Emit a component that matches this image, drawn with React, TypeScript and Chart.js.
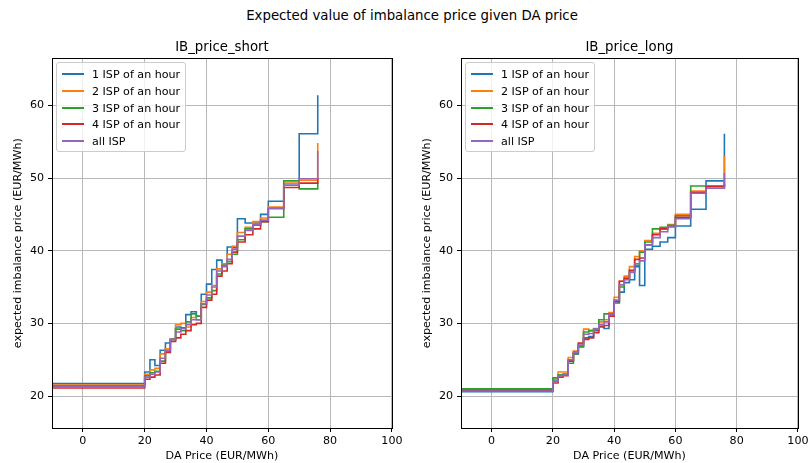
import React, { useEffect, useRef } from "react";
import { Chart, registerables } from "chart.js";
Chart.register(...registerables);

const SUPTITLE = "Expected value of imbalance price given DA price";
const SERIES_LABELS = ["1 ISP of an hour", "2 ISP of an hour", "3 ISP of an hour", "4 ISP of an hour", "all ISP"];
const COLORS = ["#1f77b4", "#ff7f0e", "#2ca02c", "#d62728", "#9467bd"];
const X_TICKS = [0, 20, 40, 60, 80, 100];
const Y_TICKS = [20, 30, 40, 50, 60];

const DA_PRICE = [-10, 20, 21.7, 23.3, 25, 26.7, 28.3, 30, 31.7, 33.3, 35, 36.7, 38.3, 40, 41.7, 43.3, 45, 46.7, 48.3, 50, 52.5, 55, 57.5, 60, 65, 70, 76];

const SHORT_1 = [21.7, 23.3, 25.0, 24.2, 26.3, 27.3, 27.8, 29.5, 29.4, 31.2, 31.6, 30.5, 34.0, 35.4, 37.4, 38.7, 38.0, 40.5, 40.4, 44.4, 43.8, 43.8, 45.0, 46.8, 49.0, 56.1, 61.4];
const SHORT_2 = [21.5, 23.0, 23.6, 23.8, 25.8, 26.5, 27.8, 29.8, 30.0, 29.5, 30.8, 31.0, 33.0, 34.3, 35.2, 37.5, 38.2, 39.5, 40.6, 42.5, 43.2, 44.0, 44.5, 46.0, 49.3, 49.7, 54.8];
const SHORT_3 = [21.4, 22.8, 23.2, 23.4, 24.8, 26.2, 27.8, 29.2, 29.0, 30.2, 31.3, 31.0, 32.6, 33.5, 34.5, 36.8, 38.0, 38.5, 39.5, 41.5, 43.0, 43.5, 44.0, 44.6, 49.6, 48.5, 49.5];
const SHORT_4 = [21.1, 22.3, 22.6, 22.9, 24.5, 26.0, 27.5, 28.0, 28.5, 29.0, 29.8, 30.0, 32.2, 33.2, 34.0, 36.5, 37.2, 38.2, 39.8, 41.2, 42.2, 43.0, 44.0, 45.8, 48.7, 49.3, 50.0];
const SHORT_ALL = [21.3, 22.6, 23.0, 23.3, 25.2, 26.3, 27.8, 28.8, 29.3, 29.8, 30.5, 30.5, 32.7, 33.9, 35.0, 37.2, 37.8, 38.8, 40.2, 42.0, 42.8, 43.6, 44.2, 45.8, 49.0, 49.9, 53.7];

const LONG_1 = [20.6, 22.2, 22.9, 23.0, 24.9, 25.8, 26.8, 28.0, 28.2, 29.0, 29.6, 29.3, 31.0, 32.8, 34.3, 35.6, 36.0, 37.8, 35.2, 40.2, 40.6, 41.2, 41.8, 43.4, 45.7, 49.6, 56.1];
const LONG_2 = [20.9, 22.3, 23.3, 23.3, 25.3, 26.2, 27.2, 29.2, 29.0, 29.3, 30.2, 30.5, 31.5, 33.6, 35.8, 36.5, 37.8, 39.2, 40.0, 41.4, 42.4, 43.0, 43.6, 45.0, 48.2, 48.9, 53.0];
const LONG_3 = [21.0, 22.5, 22.9, 23.0, 24.5, 25.8, 26.8, 28.8, 29.0, 29.2, 30.5, 31.3, 31.3, 33.0, 35.0, 36.2, 37.2, 38.0, 39.8, 41.2, 43.0, 43.2, 43.5, 44.8, 48.9, 48.9, 49.2];
const LONG_4 = [20.8, 21.8, 22.6, 22.8, 24.8, 26.0, 27.3, 27.8, 28.0, 28.7, 29.5, 29.7, 31.0, 33.0, 35.8, 36.2, 37.3, 38.8, 39.0, 40.8, 42.2, 43.0, 43.3, 44.6, 48.0, 48.8, 49.5];
const LONG_ALL = [20.7, 22.0, 22.8, 22.9, 25.0, 26.0, 27.0, 28.5, 28.6, 29.2, 29.8, 30.2, 31.2, 33.2, 35.3, 36.0, 37.0, 38.2, 38.6, 40.8, 41.8, 42.6, 43.3, 44.4, 47.9, 48.6, 50.7];

const FONT = "'DejaVu Sans', sans-serif";

const framePlugin = {
  id: "frame",
  afterDraw(chart: any) {
    const { ctx, chartArea: a } = chart;
    ctx.save();
    ctx.strokeStyle = "#000";
    ctx.lineWidth = 1;
    ctx.strokeRect(Math.round(a.left) + 0.5, Math.round(a.top) + 0.5, Math.round(a.right - a.left), Math.round(a.bottom - a.top));
    ctx.restore();
  },
};

function SubPlot(props: { title: string; series: number[][]; left: number; width: number; padRight: number }) {
  const ref = useRef<HTMLCanvasElement>(null);
  useEffect(() => {
    const datasets = props.series.map((vals, i) => ({
      label: SERIES_LABELS[i],
      data: DA_PRICE.map((x, j) => ({ x, y: vals[j] })),
      borderColor: COLORS[i],
      backgroundColor: COLORS[i],
      borderWidth: 1.6,
      pointRadius: 0,
      stepped: "before" as const,
      fill: false,
      order: 4 - i,
    }));
    const chart = new Chart(ref.current!, {
      type: "line",
      data: { datasets },
      plugins: [framePlugin],
      options: {
        animation: false,
        responsive: false,
        devicePixelRatio: 1,
        layout: { padding: { top: 0, right: props.padRight, bottom: 0, left: 0 } },
        plugins: {
          legend: { display: false },
          tooltip: { enabled: false },
          title: {
            display: true,
            text: props.title,
            fullSize: false,
            color: "#000",
            font: { family: FONT, size: 13.3, weight: "normal" },
            padding: { top: 40, bottom: 2.5 },
          },
        },
        scales: {
          x: {
            type: "linear",
            min: -10,
            max: 100,
            afterBuildTicks: (s: any) => { s.ticks = X_TICKS.map((v) => ({ value: v })); },
            afterFit: (s: any) => { s.height = 35; },
            border: { display: false },
            grid: { color: "#b8b8b8", lineWidth: 1, tickColor: "#000", tickLength: 4, drawTicks: true },
            ticks: { color: "#000", font: { family: FONT, size: 11.1 }, padding: 2.5, maxRotation: 0 },
            title: { display: true, text: "DA Price (EUR/MWh)", color: "#000", font: { family: FONT, size: 11.1 }, padding: { top: 0, bottom: 0 } },
          },
          y: {
            type: "linear",
            min: 15.6,
            max: 66.45,
            afterBuildTicks: (s: any) => { s.ticks = Y_TICKS.map((v) => ({ value: v })); },
            afterFit: (s: any) => { s.width = 52; },
            border: { display: false },
            grid: { color: "#b8b8b8", lineWidth: 1, tickColor: "#000", tickLength: 4, drawTicks: true },
            ticks: { color: "#000", font: { family: FONT, size: 11.1 }, padding: 4 },
            title: { display: true, text: "expected imbalance price (EUR/MWh)", color: "#000", font: { family: FONT, size: 11.1 }, padding: { top: 11.5, bottom: 0 } },
          },
        },
      },
    } as any);
    return () => chart.destroy();
  }, []);
  return (
    <canvas
      ref={ref}
      width={props.width}
      height={463}
      style={{ position: "absolute", left: props.left, top: 0, width: props.width, height: 463 }}
    />
  );
}

function Legend(props: { left: number }) {
  return (
    <div
      style={{
        position: "absolute",
        left: props.left,
        top: 62,
        width: 130,
        height: 90,
        background: "rgba(255,255,255,0.8)",
        border: "1px solid #cccccc",
        borderRadius: 3,
        boxSizing: "border-box",
        fontFamily: FONT,
        fontSize: 11.1,
        color: "#000",
      }}
    >
      {SERIES_LABELS.map((lab, i) => {
        const cy = Math.round(11 + i * 16.8);
        return (
          <div key={lab}>
            <div style={{ position: "absolute", left: 5, top: cy - 1, width: 22, height: 2, background: COLORS[i] }} />
            <div style={{ position: "absolute", left: 35, top: cy - 6.5, lineHeight: "13px", whiteSpace: "nowrap" }}>{lab}</div>
          </div>
        );
      })}
    </div>
  );
}

export default function App() {
  return (
    <div style={{ position: "absolute", left: 0, top: 0, width: 811, height: 463, background: "#fff", overflow: "hidden" }}>
      <div
        style={{
          position: "absolute",
          left: 412,
          top: 8,
          transform: "translateX(-50%)",
          fontFamily: FONT,
          fontSize: 13.3,
          lineHeight: "16px",
          whiteSpace: "nowrap",
          color: "#000",
        }}
      >
        {SUPTITLE}
      </div>
      <SubPlot title="IB_price_short" series={[SHORT_1, SHORT_2, SHORT_3, SHORT_4, SHORT_ALL]} left={0} width={405} padRight={12.3} />
      <SubPlot title="IB_price_long" series={[LONG_1, LONG_2, LONG_3, LONG_4, LONG_ALL]} left={409} width={402} padRight={9.5} />
      <Legend left={56} />
      <Legend left={465} />
    </div>
  );
}
